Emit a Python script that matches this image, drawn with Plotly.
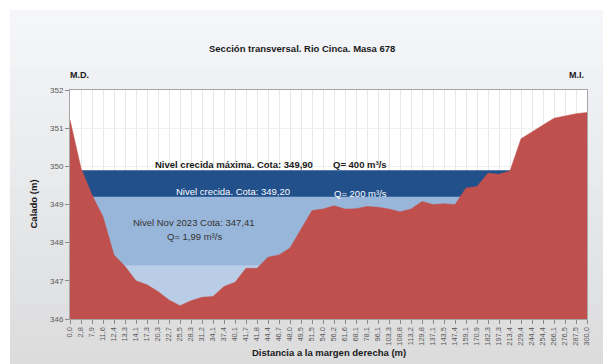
import plotly.graph_objects as go

# Cross-section survey: distance from right bank (labels) and ground elevation (m)
distancias = ["0,0", "2,8", "7,9", "11,6", "12,4", "13,3", "14,1", "17,3", "20,3", "22,7",
              "25,5", "28,3", "31,2", "34,1", "37,4", "40,1", "41,7", "41,8", "44,4", "46,7",
              "48,0", "49,5", "51,5", "54,0", "56,2", "61,6", "68,1", "78,1", "96,1", "103,3",
              "108,8", "113,2", "129,8", "137,1", "143,5", "147,4", "159,1", "170,9", "182,3",
              "197,3", "213,4", "229,4", "244,4", "254,4", "266,1", "276,5", "287,5", "300,0"]
cota_terreno = [351.22, 349.95, 349.25, 348.68, 347.68, 347.38, 347.00, 346.90, 346.72, 346.50,
                346.35, 346.48, 346.57, 346.59, 346.85, 346.96, 347.33, 347.33, 347.62, 347.68,
                347.86, 348.34, 348.84, 348.88, 348.97, 348.88, 348.89, 348.95, 348.93, 348.88,
                348.81, 348.88, 349.08, 349.00, 349.02, 349.00, 349.43, 349.47, 349.82, 349.79,
                349.88, 350.72, 350.91, 351.08, 351.26, 351.33, 351.38, 351.41]

# Water levels (m)
nivel_maxima = 349.90
nivel_crecida = 349.20
nivel_nov2023 = 347.41

FONT = "Liberation Sans, Arial, sans-serif"
idx = list(range(len(distancias)))

fig = go.Figure()

# Water bands, stacked from highest to lowest, then ground on top
for nivel, color in [(nivel_maxima, "#21508b"), (nivel_crecida, "#98b6da"), (nivel_nov2023, "#b9cde6")]:
    fig.add_trace(go.Scatter(x=idx, y=[nivel] * len(idx), mode="lines", fill="tozeroy",
                             fillcolor=color, line=dict(width=0, color=color),
                             hoverinfo="skip", showlegend=False))

fig.add_trace(go.Scatter(x=idx, y=cota_terreno, mode="lines", fill="tozeroy",
                         fillcolor="#c0504d", line=dict(width=0.5, color="#c0504d"),
                         showlegend=False))

# Plot geometry in pixels (for the background panel)
W, H = 603, 364
L, R, T, B = 70, 587, 90, 319
pw, ph = R - L, B - T


def px(x):
    return (x - L) / pw


def py(y):
    return (B - y) / ph


# Grey gradient panel behind the chart
shapes = []
top_c = (244, 246, 249)
bot_c = (220, 220, 221)
n = 24
y0, y1 = 10, H
for k in range(n):
    t = k / (n - 1)
    c = tuple(round(top_c[j] + (bot_c[j] - top_c[j]) * t) for j in range(3))
    ya = y0 + (y1 - y0) * k / n
    yb = y0 + (y1 - y0) * (k + 1) / n
    shapes.append(dict(type="rect", xref="paper", yref="paper", layer="below",
                       x0=px(10), x1=px(W + 2), y0=py(yb + 0.5), y1=py(ya),
                       line=dict(width=0), fillcolor="rgb(%d,%d,%d)" % c))
# white plotting area
shapes.append(dict(type="rect", xref="paper", yref="paper", layer="below",
                   x0=0, x1=1, y0=0, y1=1, line=dict(width=0), fillcolor="white"))


def note(text, x, y, size=9.5, color="#1a1a1a", ref="data", xanchor="center", angle=0):
    xr, yr = ("x", "y") if ref == "data" else ("paper", "paper")
    return dict(text=text, x=x, y=y, xref=xr, yref=yr, xanchor=xanchor, yanchor="middle",
                textangle=angle, showarrow=False, font=dict(family=FONT, size=size, color=color))


annotations = [
    note("<b>Nivel crecida máxima. Cota: 349,90</b>", 14.9, 350.05),
    note("<b>Q= 400 m³/s</b>", 26.4, 350.05),
    note("Nivel crecida. Cota: 349,20", 14.8, 349.33, color="white"),
    note("Q= 200 m³/s", 26.4, 349.3, color="white"),
    note("Nivel Nov 2023 Cota: 347,41", 11.2, 348.52, color="#333333"),
    note("Q= 1,99 m³/s", 11.3, 348.15, color="#333333"),
    note("<b>M.D.</b>", px(68), py(75), size=9, ref="paper", xanchor="left"),
    note("<b>M.I.</b>", px(586), py(75), size=9, ref="paper", xanchor="right"),
    note("<b>Sección transversal. Rio Cinca. Masa 678</b>", px(302), py(48), ref="paper"),
    note("<b>Distancia a la margen derecha (m)</b>", 0.5, py(352), ref="paper"),
    note("<b>Calado (m)</b>", px(33), 0.5, ref="paper", angle=-90),
]

fig.update_layout(
    width=W, height=H,
    margin=dict(l=L, r=W - R, t=T, b=H - B),
    paper_bgcolor="white",
    plot_bgcolor="rgba(0,0,0,0)",
    shapes=shapes,
    annotations=annotations,
    font=dict(family=FONT, size=8, color="#595959"),
    xaxis=dict(range=[0, len(idx) - 1], tickmode="array", tickvals=idx, ticktext=distancias,
               tickangle=-90, tickfont=dict(family=FONT, size=7.5, color="#595959"),
               showgrid=True, gridcolor="#e8e8e8", gridwidth=1, zeroline=False,
               showline=True, linecolor="#a6a6a6", mirror=True,
               ticks="outside", ticklen=4, tickcolor="#8a8a8a"),
    yaxis=dict(range=[346, 352], dtick=1, tickfont=dict(family=FONT, size=8, color="#595959"),
               showgrid=True, gridcolor="#f0f0f0", zeroline=False,
               showline=True, linecolor="#a6a6a6", mirror=True,
               ticks="outside", ticklen=4, tickcolor="#8a8a8a"),
)

fig.write_html("out.html")
